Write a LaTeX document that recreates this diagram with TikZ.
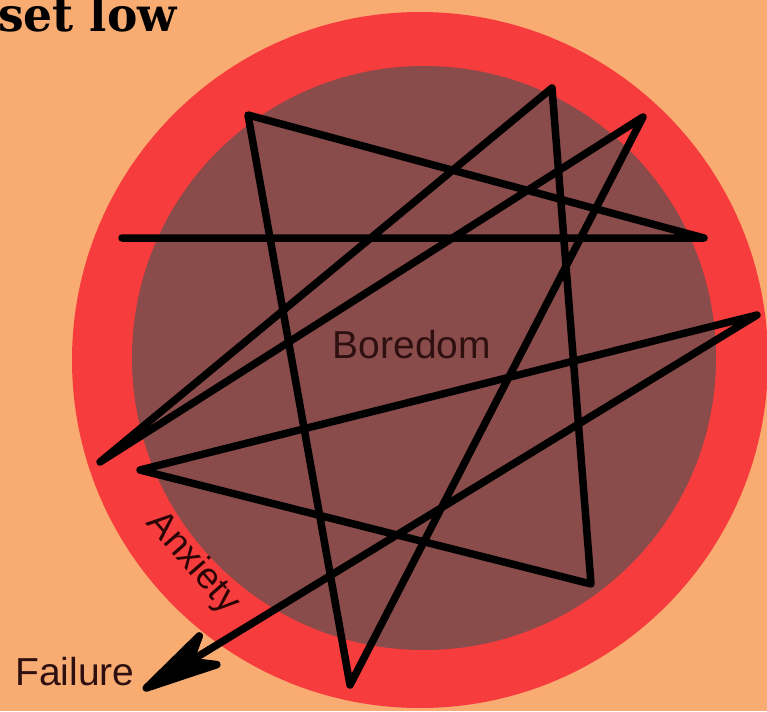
\documentclass[tikz,border=0pt]{standalone}
\usepackage{fontspec}
\usetikzlibrary{arrows.meta}
\newfontfamily\labelfont{Liberation Sans}
\newfontfamily\titlefont{DejaVu Serif}
\definecolor{bgpeach}{HTML}{F9AC72}
\definecolor{ringred}{HTML}{F63C3C}
\definecolor{coremaroon}{HTML}{8A4B4B}
\definecolor{darktext}{HTML}{2E1010}
\definecolor{anxtext}{HTML}{2A0505}
\tikzset{
  zig/.style={line width=7.5pt, draw=black, line join=round, line cap=round},
  lbl/.style={inner sep=0pt, font=\labelfont\fontsize{39}{44}\selectfont, text=darktext},
}
\begin{document}
\begin{tikzpicture}[x=1pt,y=-1pt]
\useasboundingbox[fill=bgpeach] (0,0) rectangle (767,711);
% rings
\fill[ringred] (420,360) circle[radius=348pt];
\fill[coremaroon] (424,358) circle[radius=292pt];
% labels
\node[anchor=base west, inner sep=0pt, xscale=0.97,
      font=\titlefont\bfseries\fontsize{47}{50}\selectfont] (title) at (-2,32) {set low};
\node[lbl, anchor=base] (boredom) at (412,358) {Boredom};
\node[lbl, anchor=base west] (failure) at (15,685) {Failure};
\node[lbl, text=anxtext, font=\labelfont\fontsize{37}{40}\selectfont, rotate=-49] (anxiety) at (193,563) {Anxiety};
% zigzag vertices
\coordinate (A) at (122,238);
\coordinate (B) at (704,238);
\coordinate (C) at (248,115);
\coordinate (D) at (350,685);
\coordinate (E) at (643,117);
\coordinate (J) at (100,462);
\coordinate (F) at (552,88);
\coordinate (G) at (591,584);
\coordinate (H) at (140,470);
\coordinate (I) at (757,315);
\coordinate (T) at (143,690);
\draw[zig, -{Stealth[length=104pt, width=48pt, inset=30pt, round=false]}]
  (A) -- (B) -- (C) -- (D) -- (E) -- (J) -- (F) -- (G) -- (H) -- (I) -- (T);
\end{tikzpicture}
\end{document}
